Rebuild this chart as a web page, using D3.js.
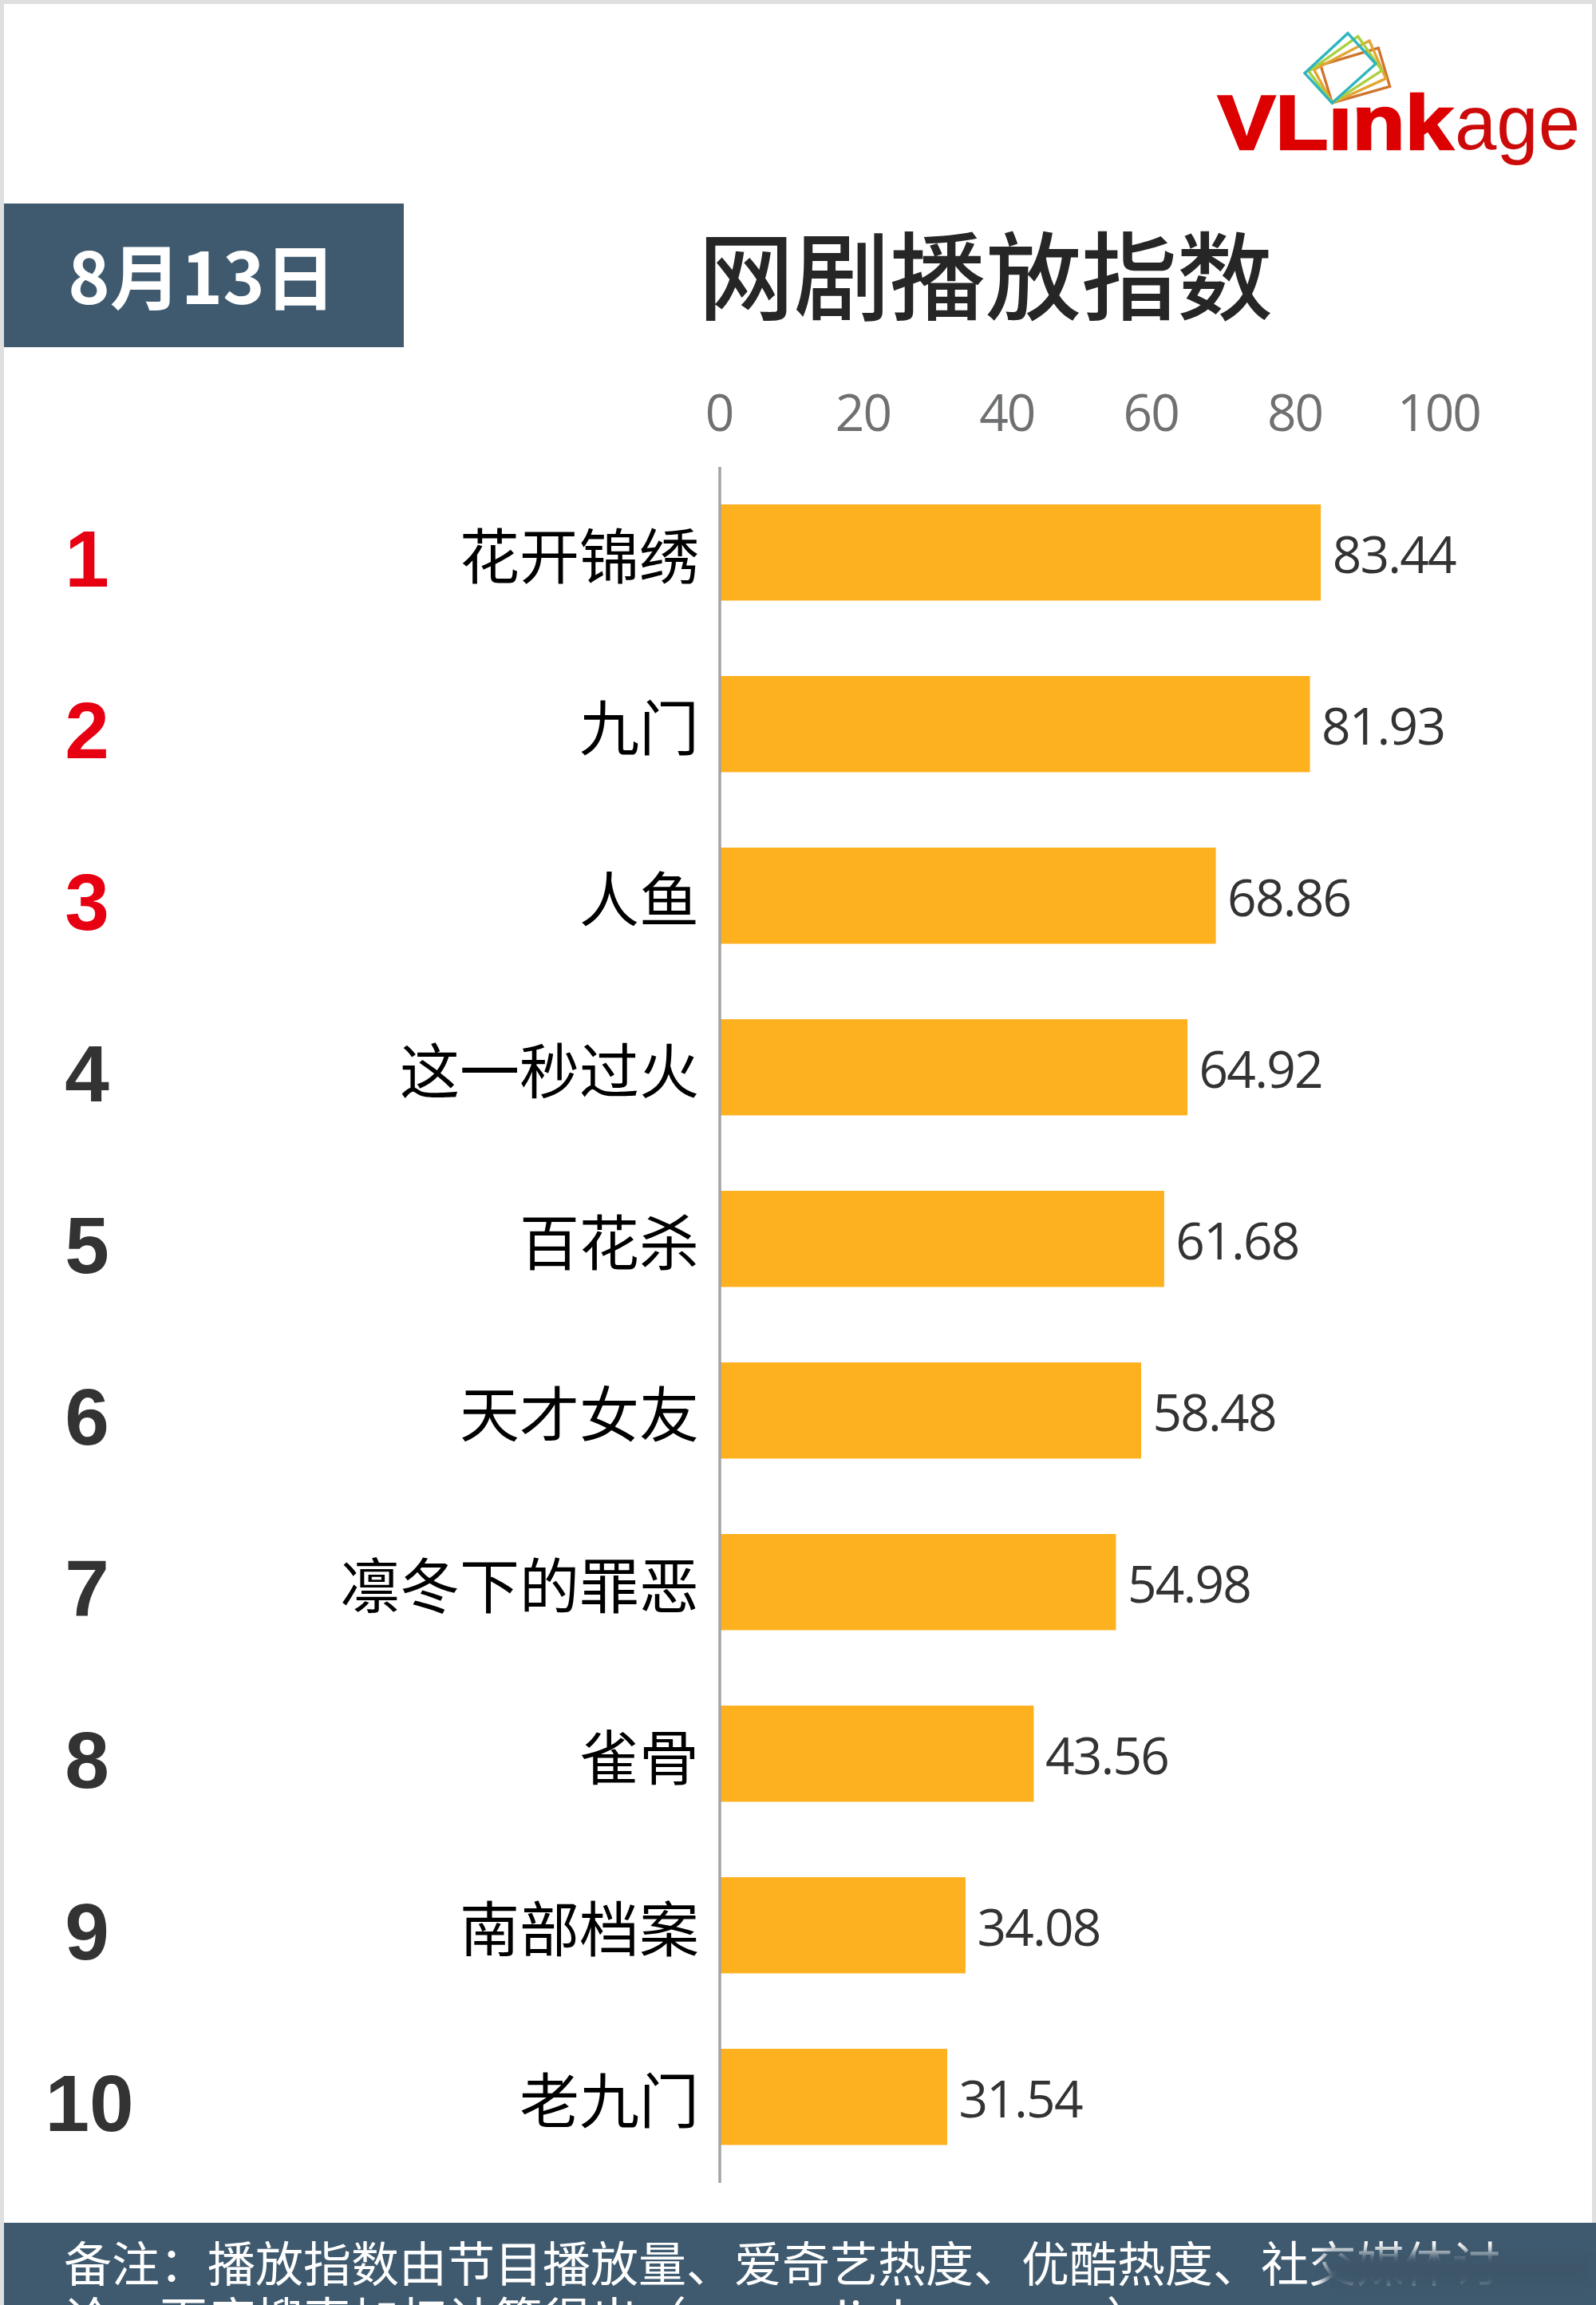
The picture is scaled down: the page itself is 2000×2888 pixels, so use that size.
<!DOCTYPE html>
<html><head><meta charset="utf-8">
<script src="https://cdn.jsdelivr.net/npm/d3@7"></script>
<style>html,body{margin:0;padding:0;background:#fff}svg{display:block}</style></head>
<body><div id="c"></div>
<script>
const categories=["花开锦绣","九门","人鱼","这一秒过火","百花杀","天才女友","凛冬下的罪恶","雀骨","南部档案","老九门"];
const values=[83.44,81.93,68.86,64.92,61.68,58.48,54.98,43.56,34.08,31.54];
const ranks=[1,2,3,4,5,6,7,8,9,10];
const axisTicks=[0,20,40,60,80,100];
const titleText="网剧播放指数";
const dateText="8月13日";
const noteLine1="备注：播放指数由节目播放量、爱奇艺热度、优酷热度、社交媒体讨";
const noteLine2="论、百度搜索加权计算得出（www.vlinkage.com）";

const W=2000,H=2888;
const CJK='"Noto Sans CJK SC","Noto Sans",sans-serif';
const NUM='"Open Sans","Noto Sans",sans-serif';
const svg=d3.select('#c').append('svg').attr('width',W).attr('height',H).attr('viewBox',`0 0 ${W} ${H}`);
const defs=svg.append('defs');
defs.append('filter').attr('id','smudge').attr('x','-20%').attr('y','-40%').attr('width','140%').attr('height','180%')
  .append('feGaussianBlur').attr('stdDeviation',7);

// frame
svg.append('rect').attr('width',W).attr('height',H).attr('fill','#dfdfdf');
svg.append('rect').attr('x',5).attr('y',5).attr('width',1990).attr('height',H).attr('fill','#fff');

// logo
const logo=svg.append('g');
logo.append('text').attr('x',1526).attr('y',187).attr('font-family','"Liberation Sans",Arial,sans-serif').attr('font-weight',700)
  .attr('font-size',96).attr('fill','#dd0000').attr('stroke','#dd0000').attr('stroke-width',2.5).attr('textLength',295).attr('lengthAdjust','spacingAndGlyphs').text('VLink');
logo.append('text').attr('x',1823).attr('y',187).attr('font-family','"Liberation Sans",Arial,sans-serif')
  .attr('font-size',96).attr('fill','#cc0a0a').attr('textLength',157).attr('lengthAdjust','spacingAndGlyphs').text('age');
logo.append('rect').attr('x',1665).attr('y',112).attr('width',32).attr('height',24).attr('fill','#fff');
const P=(a)=>a.map(([px,py])=>[1620+px/3,30+py/3].join(',')).join(' ');
[[[[105,155],[322,90],[365,235],[148,297]],'#d0742e'],
 [[[80,172],[288,63],[350,205],[148,297]],'#e2a632'],
 [[[60,178],[245,47],[335,175],[148,297]],'#a9d03e'],
 [[[207,35],[312,150],[148,297],[45,185]],'#2fb5c0']].forEach(([pts,c])=>{
  logo.append('polygon').attr('points',P(pts)).attr('fill','none').attr('stroke',c).attr('stroke-width',3.4);
});

// header
svg.append('rect').attr('x',5).attr('y',255).attr('width',501).attr('height',180).attr('fill','#3f5a6f');
svg.append('text').attr('x',253).attr('y',381).attr('text-anchor','middle').attr('font-family',CJK).attr('font-weight',700)
  .attr('font-size',89).attr('fill','#fff').text(dateText);
svg.append('text').attr('x',1235).attr('y',392).attr('text-anchor','middle').attr('font-family',CJK).attr('font-weight',500)
  .attr('font-size',120).attr('fill','#262626').text(titleText);

// scales
const xScale=d3.scaleLinear().domain([0,100]).range([903,1805]);
const yScale=d3.scaleBand().domain(categories).range([584.5,2734.5]).paddingInner(0.442).paddingOuter(0.221);

// bars
svg.append('g').selectAll('rect').data(categories).join('rect')
  .attr('x',xScale(0)-0.5).attr('y',d=>yScale(d)).attr('width',(d,i)=>xScale(values[i])-xScale(0)).attr('height',yScale.bandwidth()+0.5).attr('fill','#fdb11e');

// axes
const topAxis=svg.append('g').attr('transform','translate(-2.5,584.5)').call(d3.axisTop(xScale).tickValues(axisTicks).tickSize(0).tickPadding(44.5));
topAxis.select('.domain').remove();
topAxis.selectAll('text').attr('font-family',NUM).attr('font-size',64).attr('letter-spacing',-2).attr('fill','#6e7072');

const leftAxis=svg.append('g').attr('transform','translate(901.5,0)').call(d3.axisLeft(yScale).tickSize(0).tickPadding(25.5));
leftAxis.select('.domain').attr('stroke','#a3a3a3').attr('stroke-width',3.5);
leftAxis.selectAll('text').attr('font-family',CJK).attr('font-size',75).attr('fill','#000').attr('dy','0.44em');

// value labels
svg.append('g').selectAll('text').data(categories).join('text')
  .attr('x',(d,i)=>xScale(values[i])+14).attr('y',d=>yScale(d)+yScale.bandwidth()/2+26)
  .attr('font-family',NUM).attr('font-size',64).attr('letter-spacing',-1.8).attr('fill','#333')
  .text((d,i)=>values[i].toFixed(2));

// ranks
svg.append('g').selectAll('text').data(categories).join('text')
  .attr('x',(d,i)=>ranks[i]===10?112:109).attr('y',d=>yScale(d)+yScale.bandwidth()/2+43)
  .attr('text-anchor','middle').attr('font-family','"Liberation Sans",Arial,sans-serif').attr('font-weight',700).attr('font-size',100)
  .attr('fill',(d,i)=>i<3?'#e60012':'#333').text((d,i)=>ranks[i]);

// footer
svg.append('rect').attr('x',5).attr('y',2785).attr('width',1995).attr('height',103).attr('fill','#3f5a6f');
const foot=svg.append('g').attr('font-family',CJK).attr('font-size',60).attr('fill','#fff');
foot.append('text').attr('x',80).attr('y',2859).text(noteLine1);
foot.append('text').attr('x',80).attr('y',2929).text(noteLine2);
svg.append('rect').attr('x',1660).attr('y',2821).attr('width',338).attr('height',47).attr('fill','#3c566a').attr('filter','url(#smudge)');
</script></body></html>
